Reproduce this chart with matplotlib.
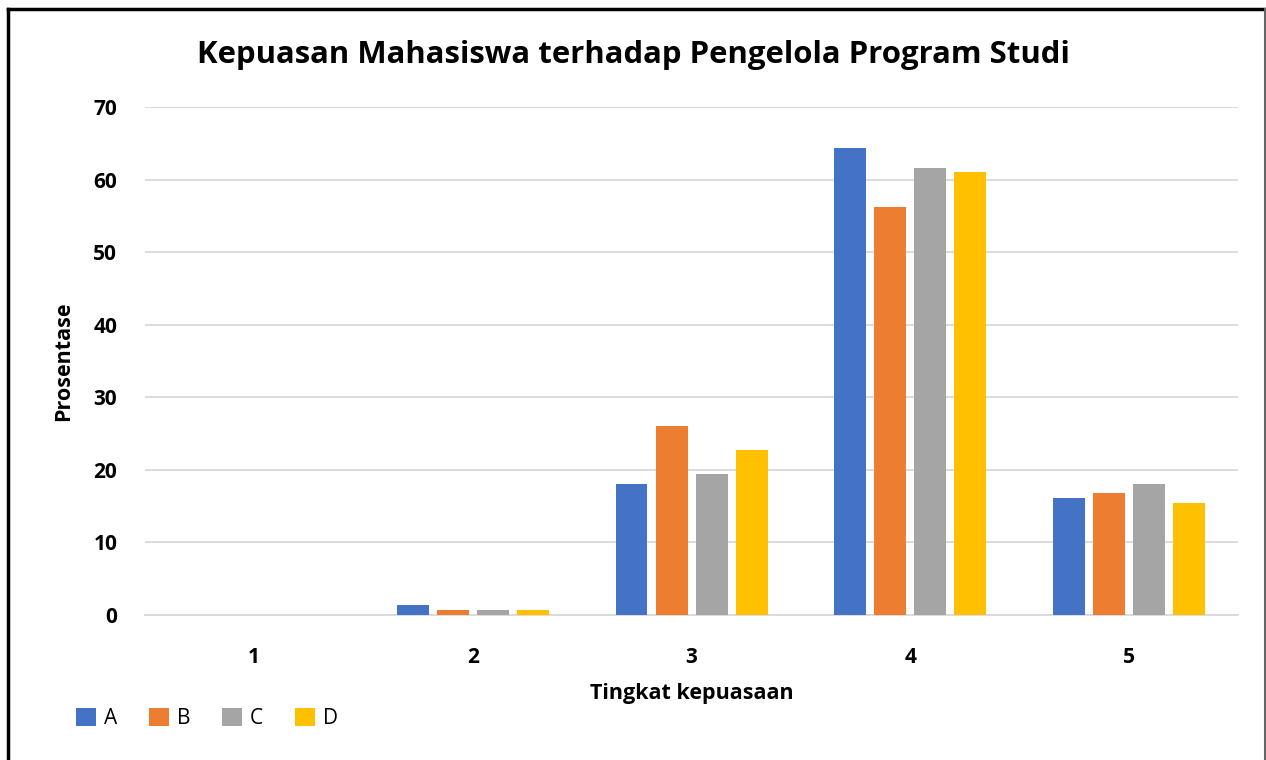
import matplotlib.pyplot as plt
import numpy as np
from matplotlib.lines import Line2D
from matplotlib.patches import Patch

categories = ["1", "2", "3", "4", "5"]
series_names = ["A", "B", "C", "D"]
values_a = [0, 1.4, 18.1, 64.3, 16.1]
values_b = [0, 0.7, 26.1, 56.3, 16.8]
values_c = [0, 0.7, 19.4, 61.6, 18.1]
values_d = [0, 0.7, 22.7, 61.0, 15.4]
colors = ["#4472C4", "#ED7D31", "#A5A5A5", "#FFC000"]

plt.rcParams["font.family"] = ["Open Sans", "DejaVu Sans"]

fig = plt.figure(figsize=(12.66, 7.6), dpi=100)
ax = fig.add_axes([0.1145, 0.191, 0.8635, 0.668])

x = np.arange(len(categories))
width = 0.146
step = 0.183
all_values = [values_a, values_b, values_c, values_d]
for i, vals in enumerate(all_values):
    offset = (i - 1.5) * step
    ax.bar(x + offset, vals, width=width, color=colors[i], label=series_names[i], zorder=3)

ax.set_xlim(-0.5, len(categories) - 0.5)
ax.set_ylim(0, 70)
ax.set_yticks(range(0, 71, 10))
ax.set_xticks(x)
ax.set_xticklabels(categories)
ax.grid(axis="y", color="#D9D9D9", linewidth=1.3, zorder=0)
ax.tick_params(axis="both", length=0, labelsize=15)
ax.tick_params(axis="y", pad=20)
ax.tick_params(axis="x", pad=23)
for lbl in ax.get_xticklabels() + ax.get_yticklabels():
    lbl.set_fontweight("bold")
for side in ["top", "right", "left"]:
    ax.spines[side].set_visible(False)
ax.spines["bottom"].set_color("#D9D9D9")
ax.spines["bottom"].set_linewidth(1.3)

ax.set_xlabel("Tingkat kepuasaan", fontsize=15.5, fontweight="bold", labelpad=11)
ax.set_ylabel("Prosentase", fontsize=15.5, fontweight="bold", labelpad=14)
fig.text(0.5, 0.928, "Kepuasan Mahasiswa terhadap Pengelola Program Studi",
         ha="center", va="center", fontsize=22.4, fontweight="bold")

handles = [Patch(facecolor=c, edgecolor="none") for c in colors]
fig.legend(handles, series_names, loc="center left", bbox_to_anchor=(0.045, 0.055),
           ncol=4, frameon=False, fontsize=15, handlelength=0.95, handleheight=0.95,
           handletextpad=0.4, columnspacing=1.52)

# border around the chart area
fig.add_artist(Line2D([8 / 1266, 8 / 1266], [0, 1 - 9 / 760], color="black", linewidth=2.5,
                      transform=fig.transFigure))
fig.add_artist(Line2D([8 / 1266, 1265 / 1266], [1 - 9 / 760, 1 - 9 / 760], color="black",
                      linewidth=2.5, transform=fig.transFigure))
fig.add_artist(Line2D([1264.5 / 1266, 1264.5 / 1266], [0, 1 - 9 / 760], color="#666666",
                      linewidth=1.5, transform=fig.transFigure))

fig.savefig("out.png", dpi=100)
